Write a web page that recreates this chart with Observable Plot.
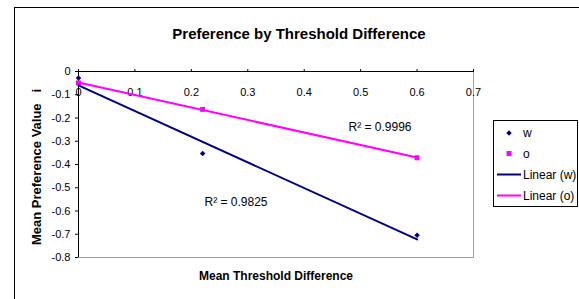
<!DOCTYPE html>
<html><head><meta charset="utf-8">
<script src="https://cdn.jsdelivr.net/npm/d3@7"></script>
<script src="https://cdn.jsdelivr.net/npm/@observablehq/plot@0.6"></script>
<style>body{margin:0;background:#fff;} svg{display:block}</style>
</head><body><div id="chart"></div>
<script>
const thresholdDiff = [0, 0.22, 0.6];
const wValues = [-0.028, -0.353, -0.704];
const oValues = [-0.049, -0.163, -0.371];
const seriesNames = ["w", "o"];
const seriesColors = ["#000080", "#FF00FF"];
const xTicks = [0, 0.1, 0.2, 0.3, 0.4, 0.5, 0.6, 0.7];
const yTicks = [0, -0.1, -0.2, -0.3, -0.4, -0.5, -0.6, -0.7, -0.8];
const r2Labels = ["R\u00b2 = 0.9996", "R\u00b2 = 0.9825"];
const legendLabels = ["w", "o", "Linear (w)", "Linear (o)"];
const titleText = "Preference by Threshold Difference";
const xTitle = "Mean Threshold Difference";
const yTitle = "Mean Preference Value\u00a0\u00a0\u00a0i";

const data = [
  ...thresholdDiff.map((x, i) => ({x, y: wValues[i], series: "w"})),
  ...thresholdDiff.map((x, i) => ({x, y: oValues[i], series: "o"}))
];
const fmt = d => d === 0 ? "0" : d.toFixed(1);
const font = "'Liberation Sans', Arial, sans-serif";

const plot = Plot.plot({
  width: 579, height: 299,
  marginLeft: 78, marginRight: 106, marginTop: 71, marginBottom: 42,
  style: {fontFamily: font, fontSize: "11px", background: "white", color: "black"},
  x: {domain: [0, 0.7]},
  y: {domain: [-0.8, 0]},
  color: {domain: seriesNames, range: seriesColors},
  marks: [
    Plot.frame({stroke: "#a0a0a0"}),
    Plot.ruleX([0], {stroke: "black"}),
    Plot.ruleY([0], {stroke: "black"}),
    Plot.axisX({anchor: "top", ticks: xTicks, tickSize: 3, tickFormat: () => "", label: null}),
    Plot.text(xTicks, {x: d => d, frameAnchor: "top", dy: 17, text: fmt, fontSize: 11}),
    Plot.axisY({ticks: yTicks, tickSize: 3, tickPadding: 5, tickFormat: fmt, label: null, fontSize: 11}),
    Plot.dot(data.filter(d => d.series === "w"), {x: "x", y: "y", symbol: "diamond2", r: 2.5, fill: seriesColors[0]}),
    Plot.dot(data.filter(d => d.series === "o"), {x: "x", y: "y", symbol: "square", r: 2.8, fill: seriesColors[1]}),
    Plot.linearRegressionY(data, {x: "x", y: "y", stroke: "series", ci: 0, strokeWidth: 2}),
    Plot.text([r2Labels[0]], {frameAnchor: "top-left", dx: 270, dy: 51, textAnchor: "start", fontSize: 12, text: d => d}),
    Plot.text([r2Labels[1]], {frameAnchor: "top-left", dx: 126, dy: 126, textAnchor: "start", fontSize: 12, text: d => d}),
    Plot.text([titleText], {frameAnchor: "top", dx: 23, dy: -43, fontSize: 15, fontWeight: "bold", text: d => d}),
    Plot.text([xTitle], {frameAnchor: "bottom", dy: 22, fontSize: 12, fontWeight: "bold", text: d => d}),
    Plot.text([yTitle], {frameAnchor: "left", textAnchor: "middle", dx: -42, dy: 2.5, rotate: -90, fontSize: 13, fontWeight: "bold", text: d => d})
  ]
});

const svg = d3.select(plot);
svg.append("rect").attr("x", 14.5).attr("y", 7.5).attr("width", 800).attr("height", 600)
  .attr("fill", "none").attr("stroke", "black");

const lg = svg.append("g").attr("font-family", font).attr("font-size", 12).attr("text-anchor", "start");
lg.append("rect").attr("x", 493.5).attr("y", 120.5).attr("width", 84).attr("height", 86)
  .attr("fill", "white").attr("stroke", "black");
const rowY = [133, 153.5, 174.5, 195.5];
legendLabels.forEach((label, i) => {
  const y = rowY[i];
  const color = seriesColors[i % 2];
  if (i === 0) {
    lg.append("path").attr("d", d3.symbol(d3.symbolDiamond2, 19.6)()).attr("transform", `translate(509,${y})`).attr("fill", color);
  } else if (i === 1) {
    lg.append("path").attr("d", d3.symbol(d3.symbolSquare, 24.6)()).attr("transform", `translate(509,${y})`).attr("fill", color);
  } else {
    lg.append("line").attr("x1", 497).attr("x2", 521).attr("y1", y).attr("y2", y).attr("stroke", color).attr("stroke-width", 2);
  }
  lg.append("text").attr("x", 523).attr("y", y).attr("dy", "0.35em").attr("text-anchor", "start").text(label);
});

document.getElementById("chart").appendChild(plot);
</script>
</body></html>
